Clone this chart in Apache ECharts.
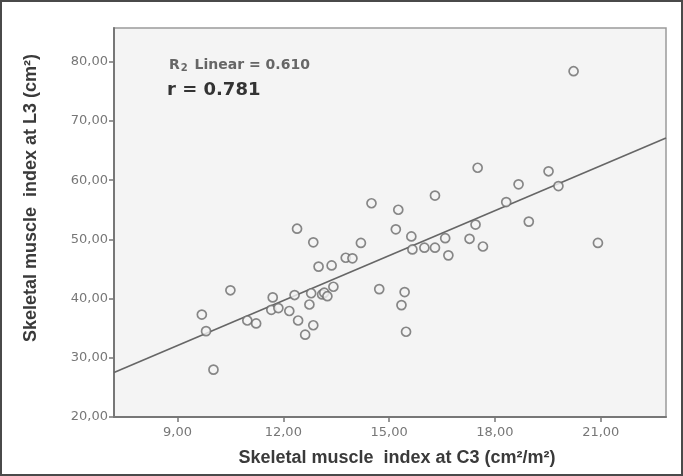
<!DOCTYPE html>
<html><head><meta charset="utf-8">
<script src="https://cdn.jsdelivr.net/npm/echarts@6/dist/echarts.min.js"></script>
<style>html,body{margin:0;padding:0;background:#fff}#c{width:683px;height:476px}</style>
</head><body><div id="c"></div>
<script>
// Data
const smiC3 = [9.69,9.81,10.02,10.50,10.98,11.23,11.70,11.66,11.86,12.17,12.32,12.39,12.42,12.62,12.79,12.74,12.85,12.85,13.00,13.10,13.16,13.25,13.37,13.42,13.77,13.96,14.20,14.50,14.72,15.19,15.26,15.35,15.44,15.48,15.63,15.66,16.00,16.30,16.30,16.59,16.68,17.28,17.45,17.51,17.66,18.32,18.67,18.96,19.52,19.80,20.23,20.92];
const smiL3 = [37.3,34.5,28.0,41.4,36.3,35.8,40.2,38.1,38.4,37.9,40.6,51.8,36.3,33.9,40.9,39.0,35.5,49.5,45.4,40.7,41.0,40.4,45.6,42.0,46.9,46.8,49.4,56.1,41.6,51.7,55.0,38.9,41.1,34.4,50.5,48.3,48.6,48.6,57.4,50.2,47.3,50.1,52.5,62.1,48.8,56.3,59.3,53.0,61.5,59.0,78.4,49.4];
const fitIntercept = [9.3];
const fitSlope = [2.53];
const xTicks = [9, 12, 15, 18, 21];
const yTicks = [20, 30, 40, 50, 60, 70, 80];
const xRange = [7.2, 22.85];
const yRange = [20, 85.7];
const r2Text = ['0.610'];
const rText = ['0.781'];
const xTitle = 'Skeletal muscle  index at C3 (cm²/m²)';
const yTitle = 'Skeletal muscle  index at L3 (cm²)';

const points = smiC3.map((x, i) => [x, smiL3[i]]);
const fitLine = xRange.map(x => [x, fitIntercept[0] + fitSlope[0] * x]);
const fmt = v => v.toFixed(2).replace('.', ',');

const chart = echarts.init(document.getElementById('c'), null, {renderer: 'canvas'});
chart.setOption({
  animation: false,
  backgroundColor: '#ffffff',
  grid: {left: 114, top: 28, right: 17, bottom: 59, show: true, backgroundColor: '#f4f4f4', borderColor: '#9a9a9a', borderWidth: 1.5},
  xAxis: {
    type: 'value', min: xRange[0], max: xRange[1],
    splitLine: {show: false},
    axisLine: {onZero: false, lineStyle: {color: '#777', width: 2}},
    axisTick: {show: true, customValues: xTicks, length: 5, lineStyle: {color: '#777', width: 1.5}},
    axisLabel: {customValues: xTicks, formatter: fmt, color: '#777', fontFamily: 'DejaVu Sans', fontSize: 13, margin: 9},
    name: xTitle, nameLocation: 'middle', nameGap: 32,
    nameTextStyle: {color: '#3a3a3a', fontFamily: 'Liberation Sans', fontSize: 18, fontWeight: 'bold', padding: [0, 0, 0, 14]}
  },
  yAxis: {
    type: 'value', min: yRange[0], max: yRange[1],
    splitLine: {show: false},
    axisLine: {onZero: false, lineStyle: {color: '#777', width: 2}},
    axisTick: {show: true, customValues: yTicks, length: 5, lineStyle: {color: '#777', width: 1.5}},
    axisLabel: {customValues: yTicks, formatter: fmt, color: '#777', fontFamily: 'DejaVu Sans', fontSize: 13, margin: 6}
  },
  series: [
    {type: 'line', data: fitLine, symbol: 'none', lineStyle: {color: '#666', width: 1.6}, z: 2},
    {type: 'scatter', data: points, symbol: 'circle', symbolSize: 9,
     itemStyle: {color: '#f4f4f4', borderColor: '#6a6a6a', borderWidth: 1.7}, z: 3}
  ],
  graphic: [
    {type: 'text', x: 31, y: 198, rotation: Math.PI / 2, style: {
      text: yTitle, fontFamily: 'Liberation Sans', fontSize: 18, fontWeight: 'bold', fill: '#3a3a3a',
      align: 'center', verticalAlign: 'middle'}},
    {type: 'text', x: 169, y: 65, style: {
      text: '{r|R}{s|2}{r| Linear = ' + r2Text[0] + '}', verticalAlign: 'middle',
      rich: {r: {fontFamily: 'DejaVu Sans', fontSize: 14, fontWeight: 'bold', fill: '#666'},
             s: {fontFamily: 'DejaVu Sans', fontSize: 10, fontWeight: 'bold', fill: '#666', padding: [7, 2, 0, 1]}}}},
    {type: 'text', x: 167, y: 90, style: {text: 'r = ' + rText[0], fontFamily: 'DejaVu Sans', fontSize: 18, fontWeight: 'bold', fill: '#333', verticalAlign: 'middle'}},
    {type: 'rect', shape: {x: 1, y: 1, width: 681, height: 474}, style: {fill: 'none', stroke: '#4a4a4a', lineWidth: 2}, silent: true, z: 100}
  ]
});
</script></body></html>
